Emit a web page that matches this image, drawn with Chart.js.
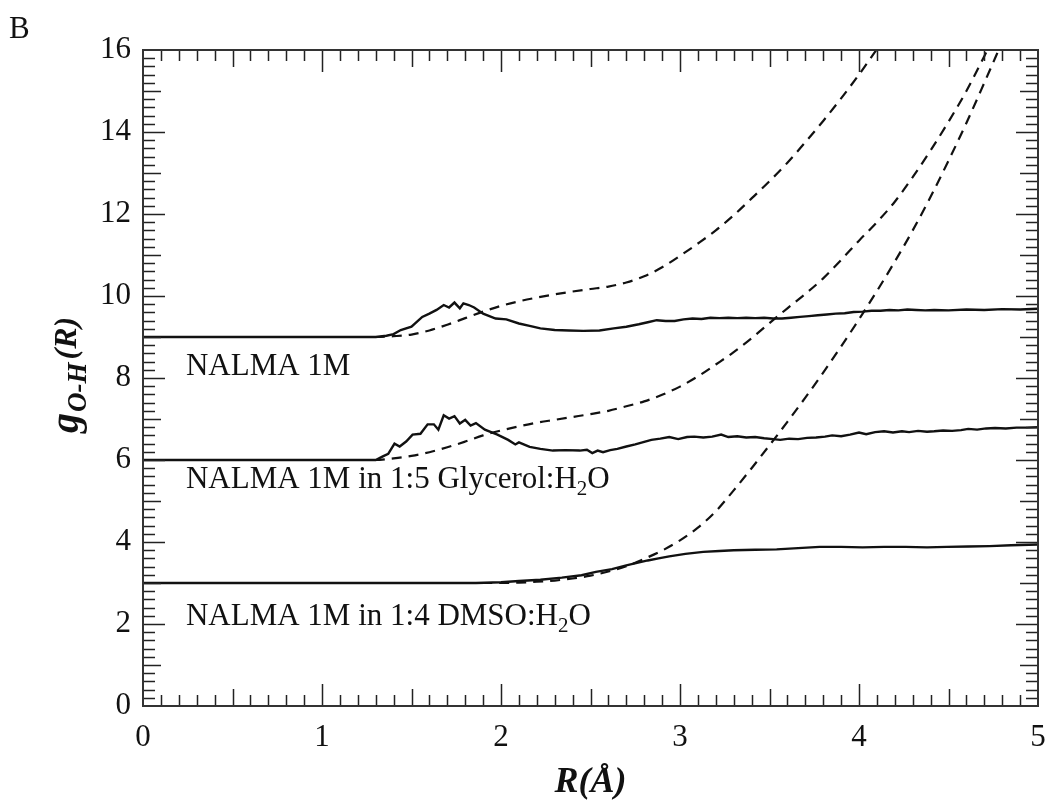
<!DOCTYPE html>
<html>
<head>
<meta charset="utf-8">
<script src="https://cdn.jsdelivr.net/npm/chart.js@4.4.1/dist/chart.umd.min.js"></script>
<style>
  html, body { margin: 0; padding: 0; background: #ffffff; }
  #wrap { width: 1049px; height: 806px; position: relative; }
</style>
</head>
<body>
<div id="wrap"><canvas id="c" width="1049" height="806"></canvas></div>
<script>
// ---------------- data ----------------
// NALMA 1M : g(R) (solid) and running integral (dashed), offset by 9
const rNalma = [0, 1.30, 1.36, 1.40, 1.44, 1.50, 1.56, 1.60, 1.64, 1.68, 1.71, 1.74, 1.77, 1.79, 1.82, 1.85, 1.90, 1.97, 2.03, 2.10, 2.16, 2.22, 2.30, 2.38, 2.46, 2.55, 2.63, 2.70, 2.77, 2.82, 2.87, 2.92, 2.97, 3.02, 3.07, 3.12, 3.17, 3.22, 3.27, 3.32, 3.37, 3.42, 3.47, 3.52, 3.57, 3.62, 3.67, 3.72, 3.77, 3.82, 3.87, 3.92, 3.97, 4.02, 4.07, 4.12, 4.17, 4.22, 4.27, 4.32, 4.37, 4.42, 4.50, 4.60, 4.70, 4.80, 4.90, 5.00];
const gNalma = [9, 9, 9.03, 9.07, 9.17, 9.25, 9.49, 9.57, 9.66, 9.78, 9.72, 9.84, 9.70, 9.82, 9.78, 9.72, 9.57, 9.45, 9.43, 9.33, 9.27, 9.21, 9.17, 9.16, 9.15, 9.16, 9.21, 9.25, 9.31, 9.36, 9.41, 9.39, 9.39, 9.43, 9.45, 9.44, 9.47, 9.46, 9.47, 9.46, 9.47, 9.46, 9.47, 9.45, 9.45, 9.47, 9.49, 9.51, 9.53, 9.55, 9.57, 9.58, 9.61, 9.62, 9.64, 9.64, 9.66, 9.65, 9.67, 9.66, 9.65, 9.66, 9.65, 9.67, 9.66, 9.68, 9.67, 9.69];
const rNalmaN = [1.20, 1.30, 1.40, 1.50, 1.60, 1.70, 1.80, 1.90, 2.00, 2.10, 2.20, 2.30, 2.40, 2.50, 2.60, 2.70, 2.80, 2.90, 3.00, 3.10, 3.20, 3.30, 3.40, 3.50, 3.60, 3.70, 3.80, 3.90, 4.00, 4.10, 4.20];
const nNalma = [9.0, 9.0, 9.02, 9.06, 9.16, 9.30, 9.46, 9.62, 9.76, 9.87, 9.96, 10.04, 10.11, 10.17, 10.23, 10.33, 10.48, 10.70, 10.98, 11.28, 11.60, 11.97, 12.38, 12.80, 13.25, 13.75, 14.27, 14.82, 15.40, 16.02, 16.65];

// NALMA 1M in 1:5 Glycerol:H2O, offset by 6
const rGly = [0, 1.30, 1.34, 1.37, 1.405, 1.434, 1.47, 1.506, 1.55, 1.59, 1.625, 1.65, 1.68, 1.71, 1.74, 1.77, 1.80, 1.83, 1.86, 1.91, 1.98, 2.04, 2.08, 2.10, 2.16, 2.22, 2.29, 2.36, 2.44, 2.48, 2.51, 2.54, 2.57, 2.61, 2.65, 2.70, 2.75, 2.80, 2.84, 2.89, 2.94, 2.99, 3.04, 3.08, 3.13, 3.18, 3.23, 3.27, 3.32, 3.37, 3.42, 3.47, 3.52, 3.56, 3.61, 3.66, 3.71, 3.76, 3.81, 3.85, 3.90, 3.95, 4.00, 4.04, 4.09, 4.14, 4.19, 4.24, 4.28, 4.33, 4.38, 4.42, 4.47, 4.52, 4.57, 4.61, 4.66, 4.71, 4.76, 4.82, 4.88, 4.94, 5.00];
const gGly = [6, 6, 6.09, 6.15, 6.40, 6.33, 6.45, 6.62, 6.64, 6.87, 6.87, 6.74, 7.09, 7.01, 7.07, 6.89, 6.98, 6.84, 6.90, 6.74, 6.62, 6.49, 6.38, 6.43, 6.32, 6.27, 6.23, 6.24, 6.23, 6.25, 6.17, 6.23, 6.19, 6.24, 6.27, 6.33, 6.38, 6.44, 6.49, 6.52, 6.56, 6.51, 6.56, 6.57, 6.55, 6.57, 6.62, 6.56, 6.58, 6.55, 6.56, 6.53, 6.51, 6.49, 6.52, 6.51, 6.54, 6.55, 6.57, 6.60, 6.58, 6.62, 6.67, 6.63, 6.68, 6.70, 6.67, 6.70, 6.68, 6.71, 6.69, 6.70, 6.72, 6.71, 6.73, 6.76, 6.74, 6.77, 6.78, 6.77, 6.79, 6.79, 6.80];
const rGlyN = [1.20, 1.30, 1.40, 1.50, 1.60, 1.70, 1.80, 1.90, 2.00, 2.10, 2.20, 2.30, 2.40, 2.50, 2.60, 2.70, 2.80, 2.90, 3.00, 3.10, 3.20, 3.30, 3.40, 3.50, 3.60, 3.70, 3.80, 3.90, 4.00, 4.10, 4.20, 4.30, 4.40, 4.50, 4.60, 4.70, 4.80];
const nGly = [6.0, 6.0, 6.04, 6.10, 6.19, 6.31, 6.45, 6.60, 6.72, 6.82, 6.91, 6.98, 7.05, 7.12, 7.20, 7.31, 7.43, 7.59, 7.79, 8.04, 8.33, 8.63, 8.97, 9.34, 9.70, 10.05, 10.43, 10.88, 11.35, 11.80, 12.30, 12.90, 13.55, 14.25, 15.00, 15.85, 16.70];

// NALMA 1M in 1:4 DMSO:H2O, offset by 3
const rDmso = [0, 1.86, 2.00, 2.10, 2.22, 2.34, 2.45, 2.53, 2.62, 2.70, 2.76, 2.82, 2.88, 2.94, 3.03, 3.13, 3.22, 3.30, 3.42, 3.54, 3.66, 3.78, 3.90, 4.02, 4.14, 4.26, 4.38, 4.49, 4.61, 4.73, 4.85, 5.00];
const gDmso = [3, 3.0, 3.02, 3.05, 3.08, 3.13, 3.19, 3.27, 3.34, 3.43, 3.49, 3.55, 3.60, 3.65, 3.71, 3.76, 3.78, 3.80, 3.81, 3.82, 3.85, 3.88, 3.88, 3.87, 3.88, 3.88, 3.87, 3.88, 3.89, 3.90, 3.92, 3.94];
const rDmsoN = [1.80, 1.90, 2.00, 2.10, 2.20, 2.30, 2.40, 2.50, 2.60, 2.70, 2.80, 2.90, 3.00, 3.10, 3.20, 3.30, 3.40, 3.50, 3.60, 3.70, 3.80, 3.90, 4.00, 4.10, 4.20, 4.30, 4.40, 4.50, 4.60, 4.70, 4.80];
const nDmso = [3.0, 3.0, 3.0, 3.01, 3.03, 3.06, 3.11, 3.18, 3.28, 3.41, 3.59, 3.79, 4.04, 4.35, 4.75, 5.26, 5.80, 6.36, 6.93, 7.52, 8.13, 8.77, 9.43, 10.12, 10.84, 11.60, 12.42, 13.30, 14.22, 15.20, 16.20];

// axes
const xTicks = [0, 1, 2, 3, 4, 5];
const yTicks = [0, 2, 4, 6, 8, 10, 12, 14, 16];
const seriesLabels = ['NALMA 1M', 'NALMA 1M in 1:5 Glycerol:H', 'NALMA 1M in 1:4 DMSO:H'];

// ---------------- helpers ----------------
function pts(xs, ys) { return xs.map((x, i) => ({ x: x, y: ys[i] })); }
const SERIF = '"Liberation Serif", "DejaVu Serif", serif';
const INK = '#111111';
const solid = (xs, ys) => ({ data: pts(xs, ys), borderColor: INK, borderWidth: 2.4, pointRadius: 0, tension: 0, fill: false });
const dashed = (xs, ys) => ({ data: pts(xs, ys), borderColor: INK, borderWidth: 2.2, borderDash: [10, 7], pointRadius: 0, cubicInterpolationMode: 'monotone', fill: false });

// label anchors in data units (left x, baseline y)
const labelAnchors = [[0.24, 8.07], [0.24, 5.31], [0.24, 1.97]];

const decorPlugin = {
  id: 'decor',
  afterDraw(chart) {
    const ctx = chart.ctx;
    const xs = chart.scales.x, ys = chart.scales.y;
    const a = chart.chartArea;
    ctx.save();
    // minor / major ticks (inward, on all four sides)
    ctx.strokeStyle = '#222';
    ctx.lineWidth = 1.5;
    ctx.beginPath();
    for (let i = 1; i < 50; i++) {
      const v = i / 10;
      const px = Math.round(xs.getPixelForValue(v)) + 0.5;
      const len = (i % 10 === 0) ? 22 : (i % 5 === 0 ? 17 : 11);
      ctx.moveTo(px, a.bottom); ctx.lineTo(px, a.bottom - len);
      ctx.moveTo(px, a.top); ctx.lineTo(px, a.top + len);
    }
    for (let i = 1; i < 80; i++) {
      const v = i / 5;
      const py = Math.round(ys.getPixelForValue(v)) + 0.5;
      const len = (i % 10 === 0) ? 22 : (i % 5 === 0 ? 18 : 12);
      ctx.moveTo(a.left, py); ctx.lineTo(a.left + len, py);
      ctx.moveTo(a.right, py); ctx.lineTo(a.right - len, py);
    }
    ctx.stroke();
    // frame
    ctx.lineWidth = 2;
    ctx.strokeStyle = '#333';
    ctx.strokeRect(a.left, a.top, a.right - a.left, a.bottom - a.top);

    // series labels
    ctx.fillStyle = INK;
    ctx.textBaseline = 'alphabetic';
    ctx.textAlign = 'left';
    labelAnchors.forEach((p, i) => {
      const lx = xs.getPixelForValue(p[0]);
      const ly = ys.getPixelForValue(p[1]);
      ctx.font = '31px ' + SERIF;
      ctx.fillText(seriesLabels[i], lx, ly);
      if (i > 0) {
        let w = ctx.measureText(seriesLabels[i]).width;
        ctx.font = '21px ' + SERIF;
        ctx.fillText('2', lx + w, ly + 7);
        const w2 = ctx.measureText('2').width;
        ctx.font = '31px ' + SERIF;
        ctx.fillText('O', lx + w + w2, ly);
      }
    });

    // panel letter
    ctx.font = '31px ' + SERIF;
    ctx.fillText('B', 9, 38);

    // x title
    ctx.font = 'italic bold 36px ' + SERIF;
    ctx.textAlign = 'center';
    ctx.fillText('R(Å)', (a.left + a.right) / 2, 792);

    // y title (rotated)
    ctx.translate(78, (a.top + a.bottom) / 2 + 55);
    ctx.rotate(-Math.PI / 2);
    ctx.textAlign = 'left';
    let x = 0;
    ctx.font = 'italic bold 40px ' + SERIF;
    ctx.fillText('g', x, 0); x += ctx.measureText('g').width + 1;
    ctx.font = 'italic bold 27px ' + SERIF;
    ctx.fillText('O-H', x, 8); x += ctx.measureText('O-H').width + 3;
    ctx.font = 'italic bold 32px ' + SERIF;
    ctx.fillText('(R)', x, -2);
    ctx.restore();
  }
};

new Chart(document.getElementById('c'), {
  type: 'line',
  data: {
    datasets: [
      solid(rNalma, gNalma), dashed(rNalmaN, nNalma),
      solid(rGly, gGly), dashed(rGlyN, nGly),
      solid(rDmso, gDmso), dashed(rDmsoN, nDmso)
    ]
  },
  options: {
    responsive: false,
    animation: false,
    events: [],
    layout: { padding: { left: 0, top: 50, right: 11, bottom: 0 } },
    plugins: { legend: { display: false }, tooltip: { enabled: false } },
    scales: {
      x: {
        type: 'linear', min: 0, max: 5,
        afterBuildTicks: s => { s.ticks = xTicks.map(v => ({ value: v })); },
        afterFit: s => { s.height = 100; s.paddingLeft = 0; s.paddingRight = 0; },
        grid: { display: false, drawTicks: false },
        border: { display: false },
        ticks: { font: { family: SERIF, size: 31 }, color: INK, padding: 13, maxRotation: 0 }
      },
      y: {
        type: 'linear', min: 0, max: 16,
        afterBuildTicks: s => { s.ticks = yTicks.map(v => ({ value: v })); },
        afterFit: s => { s.width = 143; s.paddingTop = 0; s.paddingBottom = 0; },
        grid: { display: false, drawTicks: false },
        border: { display: false },
        ticks: { font: { family: SERIF, size: 31 }, color: INK, padding: 12 }
      }
    }
  },
  plugins: [decorPlugin]
});
</script>
</body>
</html>
